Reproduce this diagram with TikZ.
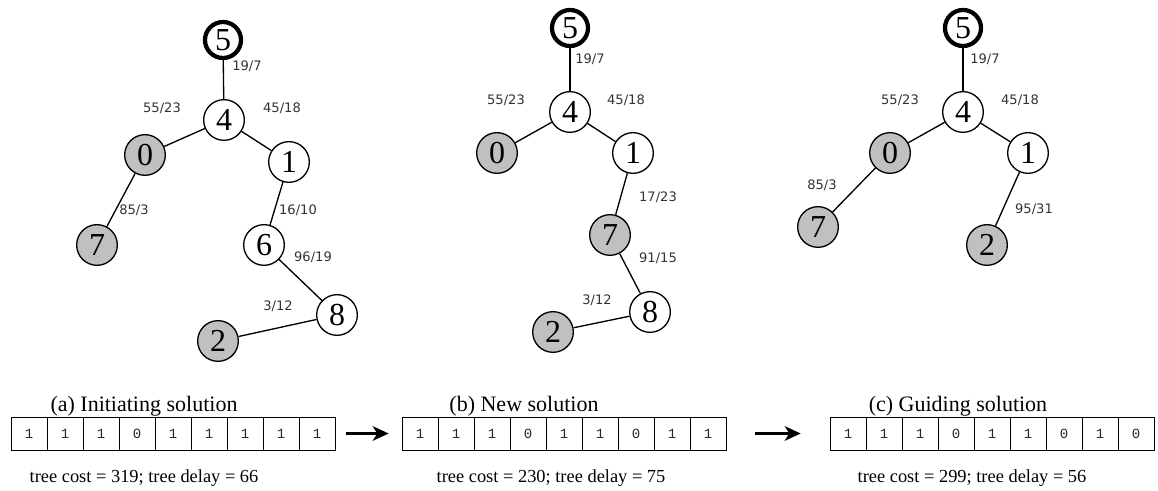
\documentclass[tikz,border=0pt]{standalone}
\usepackage{fontspec}
\setmainfont{Liberation Serif}
\newfontfamily\wtfont{DejaVu Sans}
\newfontfamily\bitfont{Liberation Mono}
\usetikzlibrary{arrows.meta}

\tikzset{
  vtx/.style={circle,draw,line width=1pt,minimum size=30.5pt,inner sep=0pt,font=\fontsize{24}{24}\selectfont},
  sel/.style={fill={rgb,255:red,192;green,192;blue,192}},
  root/.style={line width=3.2pt,minimum size=27pt},
  wt/.style={inner sep=0.75pt,text=black!80,font=\wtfont\fontsize{9.8}{10}\selectfont},
  cell/.style={draw,line width=0.6pt,minimum width=27pt,minimum height=24.75pt,inner sep=0pt,outer sep=0pt,text=black!85,font=\bitfont\fontsize{10.5}{10}\selectfont},
  edge/.style={line width=1pt},
  captext/.style={inner sep=0.75pt,font=\fontsize{16.5}{17}\selectfont},
  costtext/.style={inner sep=0.75pt,font=\fontsize{13.8}{14}\selectfont},
  step arrow/.style={line width=1.6pt,-{Stealth[length=12pt,width=11pt,inset=3.5pt]}}
}

\begin{document}
\begin{tikzpicture}[x=0.75pt,y=0.75pt,yscale=-1,xscale=1]
\useasboundingbox (0,0) rectangle (1158,491);

%Tree (a) nodes
\draw (223,40) node (a5) [vtx,root] {5};
\draw (224,120) node (a4) [vtx] {4};
\draw (145,155) node (a0) [vtx,sel] {0};
\draw (289,162) node (a1) [vtx] {1};
\draw (97,245) node (a7) [vtx,sel] {7};
\draw (264,245) node (a6) [vtx] {6};
\draw (337,315) node (a8) [vtx] {8};
\draw (218,341) node (a2) [vtx,sel] {2};
%Tree (a) edges
\draw [edge] (a5) -- (a4) ;
\draw [edge] (a4) -- (a0) ;
\draw [edge] (a4) -- (a1) ;
\draw [edge] (a0) -- (a7) ;
\draw [edge] (a1) -- (a6) ;
\draw [edge] (a6) -- (a8) ;
\draw [edge] (a8) -- (a2) ;
% Text Node
\draw (247,66) node (la54) [wt] {19/7};
\draw (162,108) node (la40) [wt] {55/23};
\draw (282,108) node (la41) [wt] {45/18};
\draw (134,210) node (la07) [wt] {85/3};
\draw (298,210) node (la16) [wt] {16/10};
\draw (313,257) node (la68) [wt] {96/19};
\draw (278,306) node (la82) [wt] {3/12};

%Tree (b) nodes
\draw (570,28) node (b5) [vtx,root] {5};
\draw (570,112) node (b4) [vtx] {4};
\draw (497,153) node (b0) [vtx,sel] {0};
\draw (633,153) node (b1) [vtx] {1};
\draw (610,235) node (b7) [vtx,sel] {7};
\draw (650,312) node (b8) [vtx] {8};
\draw (553,332) node (b2) [vtx,sel] {2};
%Tree (b) edges
\draw [edge] (b5) -- (b4) ;
\draw [edge] (b4) -- (b0) ;
\draw [edge] (b4) -- (b1) ;
\draw [edge] (b1) -- (b7) ;
\draw [edge] (b7) -- (b8) ;
\draw [edge] (b8) -- (b2) ;
% Text Node
\draw (590,59) node (lb54) [wt] {19/7};
\draw (506,100) node (lb40) [wt] {55/23};
\draw (626,100) node (lb41) [wt] {45/18};
\draw (658,197) node (lb17) [wt] {17/23};
\draw (658,258) node (lb78) [wt] {91/15};
\draw (597,300) node (lb82) [wt] {3/12};

%Tree (c) nodes
\draw (963,28) node (c5) [vtx,root] {5};
\draw (963,112) node (c4) [vtx] {4};
\draw (890,153) node (c0) [vtx,sel] {0};
\draw (1028,153) node (c1) [vtx] {1};
\draw (818,227) node (c7) [vtx,sel] {7};
\draw (987,245) node (c2) [vtx,sel] {2};
%Tree (c) edges
\draw [edge] (c5) -- (c4) ;
\draw [edge] (c4) -- (c0) ;
\draw [edge] (c4) -- (c1) ;
\draw [edge] (c0) -- (c7) ;
\draw [edge] (c1) -- (c2) ;
% Text Node
\draw (985,59) node (lc54) [wt] {19/7};
\draw (900,100) node (lc40) [wt] {55/23};
\draw (1020,100) node (lc41) [wt] {45/18};
\draw (822,185) node (lc07) [wt] {85/3};
\draw (1034,209) node (lc12) [wt] {95/31};

%Solution strings
\draw (29,433.5) node (sa1) [cell] {1};
\draw (65,433.5) node (sa2) [cell] {1};
\draw (101,433.5) node (sa3) [cell] {1};
\draw (137,433.5) node (sa4) [cell] {0};
\draw (173,433.5) node (sa5) [cell] {1};
\draw (209,433.5) node (sa6) [cell] {1};
\draw (245,433.5) node (sa7) [cell] {1};
\draw (281,433.5) node (sa8) [cell] {1};
\draw (317,433.5) node (sa9) [cell] {1};

\draw (420,433.5) node (sb1) [cell] {1};
\draw (456,433.5) node (sb2) [cell] {1};
\draw (492,433.5) node (sb3) [cell] {1};
\draw (528,433.5) node (sb4) [cell] {0};
\draw (564,433.5) node (sb5) [cell] {1};
\draw (600,433.5) node (sb6) [cell] {1};
\draw (636,433.5) node (sb7) [cell] {0};
\draw (672,433.5) node (sb8) [cell] {1};
\draw (708,433.5) node (sb9) [cell] {1};

\draw (848,433.5) node (sc1) [cell] {1};
\draw (884,433.5) node (sc2) [cell] {1};
\draw (920,433.5) node (sc3) [cell] {1};
\draw (956,433.5) node (sc4) [cell] {0};
\draw (992,433.5) node (sc5) [cell] {1};
\draw (1028,433.5) node (sc6) [cell] {1};
\draw (1064,433.5) node (sc7) [cell] {0};
\draw (1100,433.5) node (sc8) [cell] {1};
\draw (1136,433.5) node (sc9) [cell] {0};

%Straight Lines
\draw [step arrow,shorten <=8pt,shorten >=10pt] (sa9.east) -- (sb1.west) ;
\draw [step arrow,shorten <=22pt,shorten >=22pt] (sb9.east) -- (sc1.west) ;

% Text Node
\draw (144,406) node (capa) [captext] {(a) Initiating solution};
\draw (524,406) node (capb) [captext] {(b) New solution};
\draw (958,406) node (capc) [captext] {(c) Guiding solution};
% Text Node
\draw (144,478) node (costa) [costtext] {tree cost = 319; tree delay = 66};
\draw (551,478) node (costb) [costtext] {tree cost = 230; tree delay = 75};
\draw (972,478) node (costc) [costtext] {tree cost = 299; tree delay = 56};

\end{tikzpicture}
\end{document}
